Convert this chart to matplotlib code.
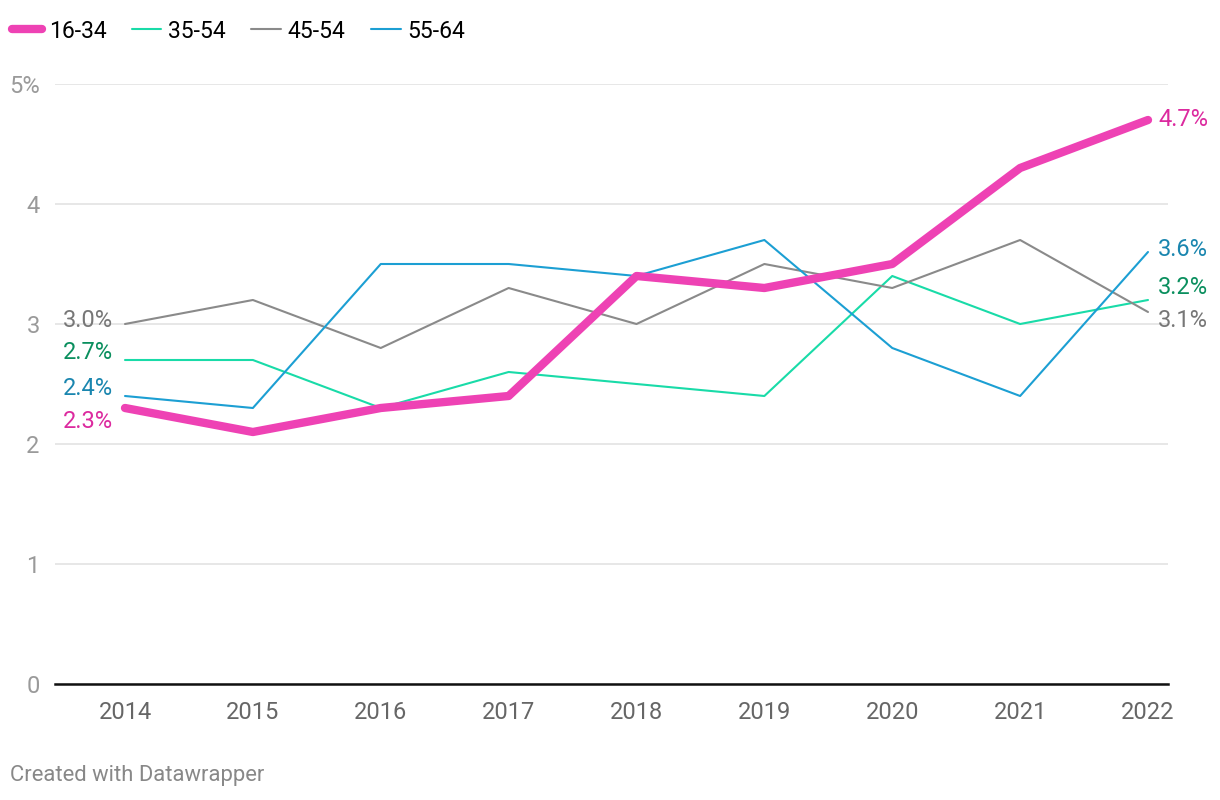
import matplotlib.pyplot as plt

plt.rcParams['font.family'] = ['Roboto', 'DejaVu Sans']

years = [2014, 2015, 2016, 2017, 2018, 2019, 2020, 2021, 2022]
age_16_34 = [2.3, 2.1, 2.3, 2.4, 3.4, 3.3, 3.5, 4.3, 4.7]
age_35_54 = [2.7, 2.7, 2.3, 2.6, 2.5, 2.4, 3.4, 3.0, 3.2]
age_45_54 = [3.0, 3.2, 2.8, 3.3, 3.0, 3.5, 3.3, 3.7, 3.1]
age_55_64 = [2.4, 2.3, 3.5, 3.5, 3.4, 3.7, 2.8, 2.4, 3.6]

series = [
    ('16-34', age_16_34, '#ee42b4', '#dc2a9f', 6),
    ('35-54', age_35_54, '#19dba8', '#0a8f5e', 1.5),
    ('45-54', age_45_54, '#8a8a8a', '#777777', 1.5),
    ('55-64', age_55_64, '#1c9fd3', '#1a86af', 1.5),
]

fig = plt.figure(figsize=(12.2, 8), dpi=100)
ax = fig.add_axes([55 / 1220, 116 / 800, 1113 / 1220, 600 / 800])

for name, vals, col, tcol, lw in series:
    z = 5 if lw > 3 else 3
    ax.plot(years, vals, color=col, lw=lw, label=name, solid_capstyle='round',
            solid_joinstyle='round', zorder=z)

# end labels, nudged so they don't overlap
left_offset = {'16-34': -0.11, '35-54': 0.06, '45-54': 0.03, '55-64': 0.06}
right_offset = {'16-34': 0.0, '35-54': 0.1, '45-54': -0.07, '55-64': 0.02}
for name, vals, col, tcol, lw in series:
    ax.text(years[0] - 0.09, vals[0] + left_offset[name], f'{vals[0]:.1f}%',
            color=tcol, fontsize=17, ha='right', va='center')
    ax.text(years[-1] + 0.08, vals[-1] + right_offset[name], f'{vals[-1]:.1f}%',
            color=tcol, fontsize=17, ha='left', va='center')

ax.set_xlim(2014 - 70 / 127.875, 2022 + 20 / 127.875)
ax.set_ylim(0, 5)
ax.set_xticks(years)
ax.set_xticklabels([str(y) for y in years])
ax.set_yticks([0, 1, 2, 3, 4, 5])
ax.set_yticklabels(['0', '1', '2', '3', '4', '5%'])
ax.tick_params(axis='x', length=0, pad=12, labelsize=17, labelcolor='#666666')
ax.tick_params(axis='y', length=0, pad=11, labelsize=17, labelcolor='#9a9a9a')
for lab in ax.get_yticklabels():
    lab.set_horizontalalignment('right')

ax.grid(axis='y', color='#e3e3e3', lw=1.2)
ax.set_axisbelow(True)
for s in ['top', 'right', 'left']:
    ax.spines[s].set_visible(False)
ax.spines['bottom'].set_color('#111111')
ax.spines['bottom'].set_linewidth(1.8)
ax.spines['bottom'].set_zorder(6)

leg = fig.legend(loc='center left', bbox_to_anchor=(12 / 1220, 1 - 31 / 800), ncols=4,
                 frameon=False, fontsize=16.5, handlelength=1.3, columnspacing=1.1,
                 handletextpad=0.3, borderpad=0, borderaxespad=0)

fig.text(10 / 1220, 1 - 776 / 800, 'Created with Datawrapper', fontsize=15.8,
         color='#888888', ha='left', va='center')

fig.savefig('out.png', dpi=100)
